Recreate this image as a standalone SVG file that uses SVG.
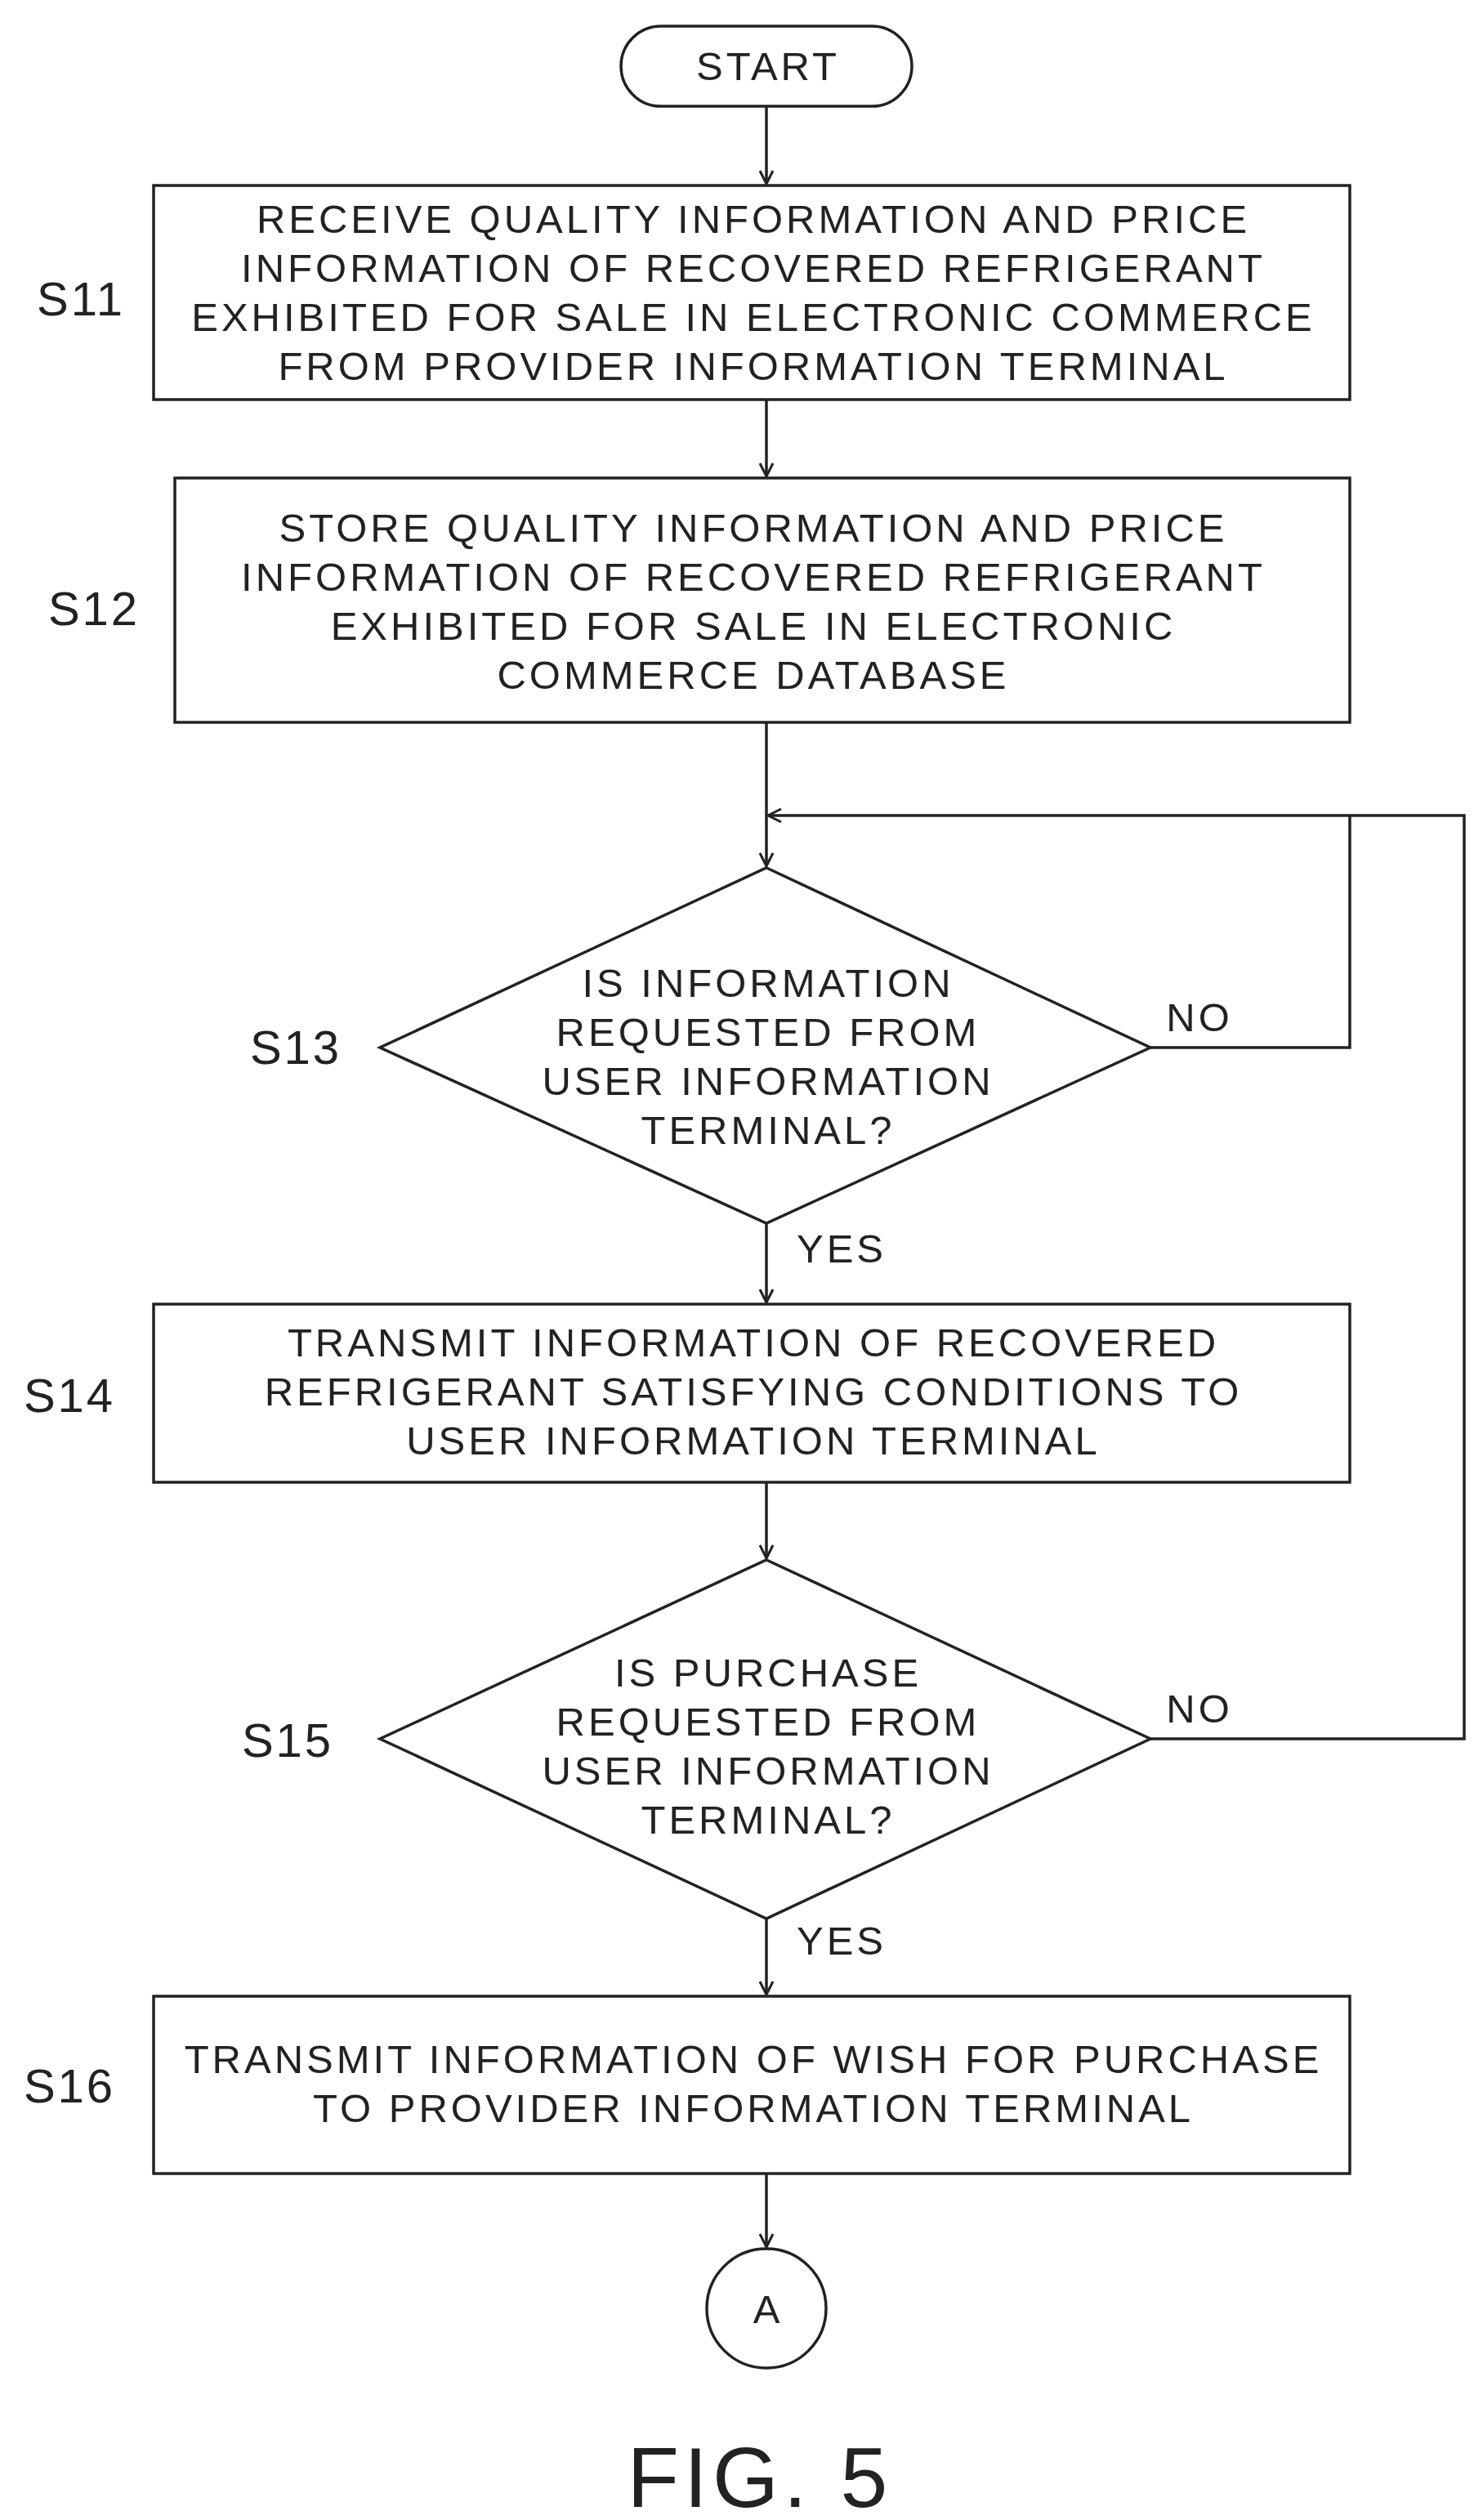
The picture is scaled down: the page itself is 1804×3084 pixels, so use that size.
<svg xmlns="http://www.w3.org/2000/svg" width="1804" height="3084" viewBox="0 0 1804 3084">
<defs>
<style>
.s{fill:#fff;stroke:#222;stroke-width:3.5}
.l{fill:none;stroke:#222;stroke-width:3.5}
.t{font-family:"Liberation Sans",Arial,sans-serif;font-size:49px;fill:#222;text-anchor:middle;letter-spacing:4px}
.lab{font-family:"Liberation Sans",Arial,sans-serif;font-size:58px;fill:#222;text-anchor:middle;letter-spacing:3px}
</style>
<marker id="a" viewBox="0 0 20 20" refX="18" refY="10" markerWidth="20" markerHeight="20" markerUnits="userSpaceOnUse" orient="auto"><path d="M2,2 L18,10 L2,18" fill="none" stroke="#222" stroke-width="3"/></marker>
</defs>
<rect width="1804" height="3084" fill="#fff"/>
<g id="connectors">
<line class="l" x1="938" y1="130" x2="938" y2="225" marker-end="url(#a)"/>
<line class="l" x1="938" y1="489" x2="938" y2="583" marker-end="url(#a)"/>
<line class="l" x1="938" y1="884" x2="938" y2="1060" marker-end="url(#a)"/>
<line class="l" x1="938" y1="1497" x2="938" y2="1594" marker-end="url(#a)"/>
<line class="l" x1="938" y1="1814" x2="938" y2="1907" marker-end="url(#a)"/>
<line class="l" x1="938" y1="2348" x2="938" y2="2441" marker-end="url(#a)"/>
<line class="l" x1="938" y1="2660" x2="938" y2="2750" marker-end="url(#a)"/>
<polyline class="l" points="1408,1282 1652,1282 1652,998"/>
<polyline class="l" points="1408,2128 1792,2128 1792,998 940,998" marker-end="url(#a)"/>
<text class="t" x="1468" y="1262">NO</text>
<text class="t" x="1468" y="2108">NO</text>
<text class="t" x="1030" y="1545">YES</text>
<text class="t" x="1030" y="2392">YES</text>
</g>
<g id="start"><rect class="s" x="760" y="32" width="356" height="98" rx="49"/><text class="t" x="940" y="98">START</text></g>
<g id="s11"><rect class="s" x="188" y="227" width="1464" height="262"/>
<text class="lab" x="99" y="386">S11</text>
<text class="t" x="922" y="285">RECEIVE QUALITY INFORMATION AND PRICE</text>
<text class="t" x="922" y="345">INFORMATION OF RECOVERED REFRIGERANT</text>
<text class="t" x="922" y="405">EXHIBITED FOR SALE IN ELECTRONIC COMMERCE</text>
<text class="t" x="922" y="465">FROM PROVIDER INFORMATION TERMINAL</text></g>
<g id="s12"><rect class="s" x="214" y="585" width="1438" height="299"/>
<text class="lab" x="115" y="765">S12</text>
<text class="t" x="922" y="663">STORE QUALITY INFORMATION AND PRICE</text>
<text class="t" x="922" y="723">INFORMATION OF RECOVERED REFRIGERANT</text>
<text class="t" x="922" y="783">EXHIBITED FOR SALE IN ELECTRONIC</text>
<text class="t" x="922" y="843">COMMERCE DATABASE</text></g>
<g id="s13"><polygon class="s" points="938,1062 1408,1282 938,1497 465,1282"/>
<text class="lab" x="362" y="1302">S13</text>
<text class="t" x="940" y="1220">IS INFORMATION</text>
<text class="t" x="940" y="1280">REQUESTED FROM</text>
<text class="t" x="940" y="1340">USER INFORMATION</text>
<text class="t" x="940" y="1400">TERMINAL?</text></g>
<g id="s14"><rect class="s" x="188" y="1596" width="1464" height="218"/>
<text class="lab" x="85" y="1728">S14</text>
<text class="t" x="922" y="1660">TRANSMIT INFORMATION OF RECOVERED</text>
<text class="t" x="922" y="1720">REFRIGERANT SATISFYING CONDITIONS TO</text>
<text class="t" x="922" y="1780">USER INFORMATION TERMINAL</text></g>
<g id="s15"><polygon class="s" points="938,1909 1408,2128 938,2348 465,2128"/>
<text class="lab" x="352" y="2150">S15</text>
<text class="t" x="940" y="2064">IS PURCHASE</text>
<text class="t" x="940" y="2124">REQUESTED FROM</text>
<text class="t" x="940" y="2184">USER INFORMATION</text>
<text class="t" x="940" y="2244">TERMINAL?</text></g>
<g id="s16"><rect class="s" x="188" y="2443" width="1464" height="217"/>
<text class="lab" x="85" y="2573">S16</text>
<text class="t" x="922" y="2537">TRANSMIT INFORMATION OF WISH FOR PURCHASE</text>
<text class="t" x="922" y="2597">TO PROVIDER INFORMATION TERMINAL</text></g>
<g id="a-conn"><circle class="s" cx="938" cy="2825" r="73"/><text class="t" x="940" y="2843">A</text></g>
<text x="930" y="3068" font-family="Liberation Sans,Arial,sans-serif" font-size="104" fill="#222" text-anchor="middle" letter-spacing="6">FIG. 5</text>
</svg>
